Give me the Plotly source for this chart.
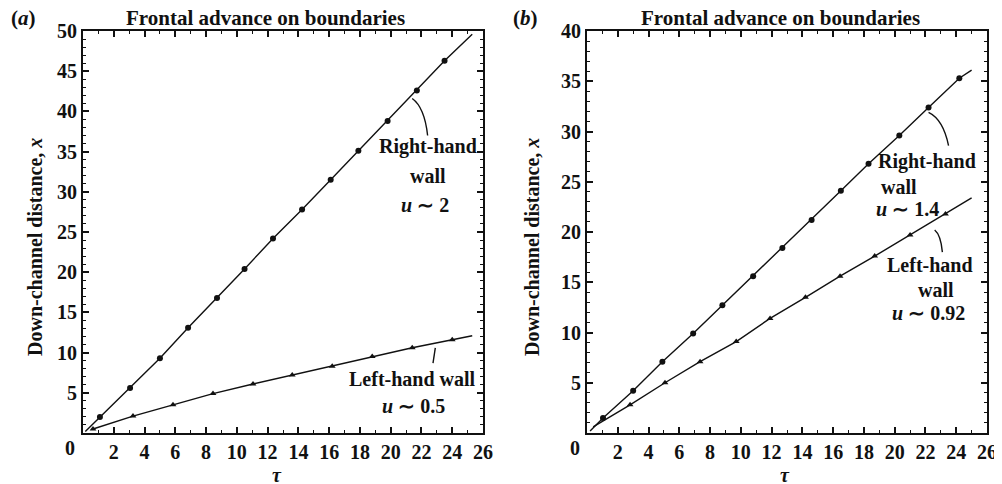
import plotly.graph_objects as go

# ---------------- data ----------------
# Panel (a)
a_right_tau = [1.1, 3.06, 5.0, 6.83, 8.71, 10.5, 12.35, 14.24, 16.1, 17.9, 19.8, 21.7, 23.5]
a_right_x = [2.0, 5.6, 9.3, 13.1, 16.8, 20.4, 24.2, 27.8, 31.5, 35.1, 38.8, 42.6, 46.3]
a_right_line_tau = [0.15, 25.3]
a_right_line_x = [0.2, 49.6]

a_left_tau = [0.65, 3.25, 5.85, 8.45, 11.05, 13.6, 16.2, 18.8, 21.4, 24.0]
a_left_x = [0.5, 2.1, 3.5, 4.9, 6.1, 7.2, 8.3, 9.5, 10.6, 11.6]
a_left_line_tau = [0.65, 25.3]
a_left_line_x = [0.5, 12.1]

# Panel (b)
b_right_tau = [1.04, 3.0, 4.9, 6.9, 8.8, 10.8, 12.7, 14.6, 16.5, 18.3, 20.3, 22.2, 24.2]
b_right_x = [1.5, 4.2, 7.1, 9.9, 12.7, 15.6, 18.4, 21.2, 24.1, 26.8, 29.6, 32.4, 35.3]
b_right_line_tau = [0.2, 25.0]
b_right_line_x = [0.2, 36.1]

b_left_tau = [2.8, 5.07, 7.35, 9.7, 11.9, 14.2, 16.45, 18.7, 21.0, 23.3]
b_left_x = [2.8, 5.0, 7.1, 9.1, 11.4, 13.5, 15.6, 17.6, 19.7, 21.8]
b_left_line_tau = [0.4, 25.0]
b_left_line_x = [0.6, 23.4]

x_ticks = [2, 4, 6, 8, 10, 12, 14, 16, 18, 20, 22, 24, 26]
a_y_ticks = [5, 10, 15, 20, 25, 30, 35, 40, 45, 50]
b_y_ticks = [5, 10, 15, 20, 25, 30, 35, 40]

FONT = "Liberation Serif"
BLACK = "#111111"

W, H = 1002, 484
OFF = 8  # page body margin


def px(x):
    return (x - OFF) / W


def py(y):
    return 1 - (y - OFF) / H


fig = go.Figure()


def add_series(tau, x, ltau, lx, symbol, size, xa, ya):
    fig.add_trace(go.Scatter(x=ltau[:1] + tau + ltau[1:], y=lx[:1] + x + lx[1:],
                             mode="lines", line=dict(color=BLACK, width=1.4),
                             xaxis=xa, yaxis=ya, showlegend=False, hoverinfo="skip"))
    fig.add_trace(go.Scatter(x=tau, y=x, mode="markers",
                             marker=dict(symbol=symbol, size=size, color=BLACK),
                             xaxis=xa, yaxis=ya, showlegend=False))


add_series(a_right_tau, a_right_x, a_right_line_tau, a_right_line_x, "circle", 6, "x", "y")
add_series(a_left_tau, a_left_x, a_left_line_tau, a_left_line_x, "triangle-up", 6, "x", "y")
add_series(b_right_tau, b_right_x, b_right_line_tau, b_right_line_x, "circle", 6, "x2", "y2")
add_series(b_left_tau, b_left_x, b_left_line_tau, b_left_line_x, "triangle-up", 6, "x2", "y2")

ydom = [py(433), py(31)]

axis_common = dict(
    showline=True, linecolor=BLACK, linewidth=1.8, mirror="ticks",
    ticks="inside", ticklen=6, tickwidth=1.5, tickcolor=BLACK,
    showgrid=False, zeroline=False, automargin=False,
    tickfont=dict(family=FONT, size=20, color=BLACK, weight="bold"),
)
minor_x = dict(dtick=1, ticks="inside", ticklen=3.5, tickcolor=BLACK, tickwidth=1.2)
minor_y = dict(dtick=1, ticks="inside", ticklen=3.5, tickcolor=BLACK, tickwidth=1.2)

fig.update_layout(
    width=W, height=H,
    margin=dict(l=0, r=0, t=0, b=0, autoexpand=False),
    paper_bgcolor="white", plot_bgcolor="white",
    font=dict(family=FONT, color=BLACK),
    xaxis=dict(domain=[px(83), px(483)], range=[0, 26], tickvals=x_ticks,
               minor=minor_x, anchor="y", **axis_common),
    yaxis=dict(domain=ydom, range=[0, 50], tickvals=a_y_ticks,
               minor=minor_y, anchor="x", **axis_common),
    xaxis2=dict(domain=[px(587), px(987)], range=[0, 26], tickvals=x_ticks,
                minor=minor_x, anchor="y2", **axis_common),
    yaxis2=dict(domain=ydom, range=[0, 40], tickvals=b_y_ticks,
                minor=minor_y, anchor="x2", **axis_common),
)

ann = []
tf = dict(family=FONT, size=21, color=BLACK, weight="bold")
af = dict(family=FONT, size=20, color=BLACK, weight="bold")
C = dict(xanchor="center", yanchor="middle", showarrow=False)
# panel labels and titles
for txt, xp in [("(<i>a</i>)", 23), ("(<i>b</i>)", 525)]:
    ann.append(dict(text=txt, x=px(xp), y=py(18), xref="paper", yref="paper", font=tf, **C))
for xp in [265, 780]:
    ann.append(dict(text="Frontal advance on boundaries", x=px(xp), y=py(18),
                    xref="paper", yref="paper", font=tf, **C))
# axis titles
for xp in [35, 532]:
    ann.append(dict(text="Down-channel distance, <i>x</i>", x=px(xp), y=py(247),
                    xref="paper", yref="paper", textangle=-90, font=af, **C))
for xp, yp in [(277, 475), (785, 475)]:
    ann.append(dict(text="<i>τ</i>", x=px(xp), y=py(yp), xref="paper", yref="paper",
                    font=af, **C))
# corner zeros
for xp in [70, 575]:
    ann.append(dict(text="0", x=px(xp), y=py(448), xref="paper", yref="paper",
                    font=af, **C))

# in-plot labels
lab = dict(family=FONT, size=20, color=BLACK, weight="bold")
for txt, x, y, xr, yr in [
    ("Right-hand", 22.4, 35.6, "x", "y"),
    ("wall", 22.4, 32.0, "x", "y"),
    ("<i>u</i> ∼ 2", 22.2, 28.3, "x", "y"),
    ("Left-hand wall", 21.4, 6.7, "x", "y"),
    ("<i>u</i> ∼ 0.5", 21.5, 3.4, "x", "y"),
    ("Right-hand", 22.1, 27.0, "x2", "y2"),
    ("wall", 20.3, 24.5, "x2", "y2"),
    ("<i>u</i> ∼ 1.4", 20.8, 22.3, "x2", "y2"),
    ("Left-hand", 22.3, 16.7, "x2", "y2"),
    ("wall", 22.7, 14.2, "x2", "y2"),
    ("<i>u</i> ∼ 0.92", 22.2, 11.9, "x2", "y2"),
]:
    ann.append(dict(text=txt, x=x, y=y, xref=xr, yref=yr, font=lab, **C))

fig.update_layout(annotations=ann)

# leader curves
shapes = [
    dict(type="path", path="M 21.4 41.6 Q 22.2 40.5 22.4 37.0", xref="x", yref="y"),
    dict(type="path", path="M 22.9 10.6 L 22.75 8.7", xref="x", yref="y"),
    dict(type="path", path="M 22.2 31.9 Q 23.15 31.2 23.5 28.6", xref="x2", yref="y2"),
    dict(type="path", path="M 22.6 20.2 Q 23.0 19.7 23.1 18.0", xref="x2", yref="y2"),
]
for s in shapes:
    s["line"] = dict(color=BLACK, width=1.4)
fig.update_layout(shapes=shapes)

fig.write_html("out.html")
